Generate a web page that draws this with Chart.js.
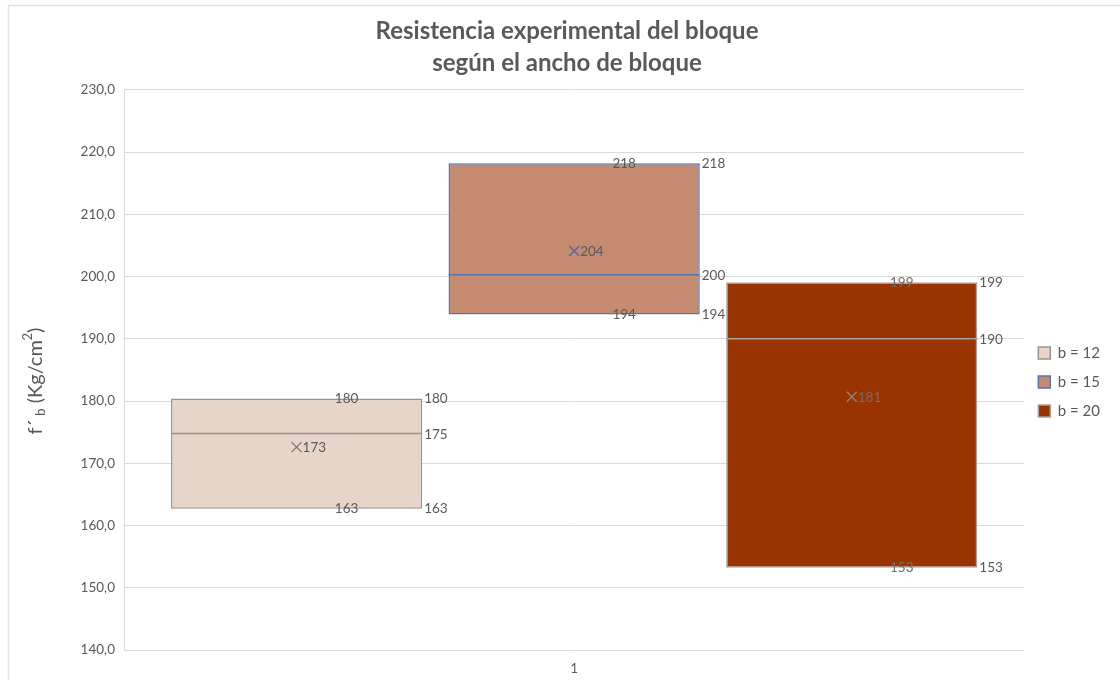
<!DOCTYPE html>
<html>
<head>
<meta charset="utf-8">
<script src="https://cdn.jsdelivr.net/npm/chart.js@4.4.1/dist/chart.umd.min.js"></script>
<style>
  html, body { margin: 0; padding: 0; background: #ffffff; }
  #wrap { width: 1120px; height: 680px; position: relative; }
</style>
</head>
<body>
<div id="wrap"><canvas id="chart" width="1120" height="680"></canvas></div>
<script>
// Box-plot statistics per block width (kg/cm²)
const categories = ['1'];
const seriesLabels = ['b = 12', 'b = 15', 'b = 20'];
const q1Values = [162.7, 193.9, 153.2];
const q3Values = [180.4, 218.2, 199.1];
const medianValues = [174.8, 200.3, 190.0];
const meanValues = [172.6, 204.1, 180.7];
const minValues = [162.7, 193.9, 153.2];
const maxValues = [180.4, 218.2, 199.1];
const yTicks = [140, 150, 160, 170, 180, 190, 200, 210, 220, 230];

const fillColors = ['#e8d5ca', '#c48b71', '#993300'];
const edgeColors = ['#9a918c', '#5574b0', '#a8a29e'];
const markColors = ['#7a7470', '#4a67a0', '#8e8a88'];
const labelColors = ['#595959', '#595959', '#7a6a66'];

const FONT = 'Lato, "Open Sans", "Liberation Sans", sans-serif';
const TEXT = '#595959';

const fmt = v => String(Math.round(v));

// Outer frame of the chart object
const framePlugin = {
  id: 'frame',
  beforeDraw(chart) {
    const ctx = chart.ctx;
    ctx.save();
    ctx.fillStyle = '#ffffff';
    ctx.fillRect(0, 0, chart.width, chart.height);
    ctx.strokeStyle = '#e3e3e3';
    ctx.lineWidth = 1.5;
    ctx.strokeRect(8.5, 5.5, chart.width + 20, chart.height + 20);
    ctx.restore();
  }
};

// Median line, mean marker and value labels on each box
const boxPlugin = {
  id: 'boxDecor',
  afterDatasetsDraw(chart) {
    const ctx = chart.ctx;
    const y = chart.scales.y;
    ctx.save();
    chart.data.datasets.forEach((ds, i) => {
      const meta = chart.getDatasetMeta(i);
      if (meta.hidden) return;
      const bar = meta.data[0];
      const cx = bar.x;
      const half = bar.width / 2;
      const left = cx - half, right = cx + half;

      // median
      const ym = y.getPixelForValue(medianValues[i]);
      ctx.strokeStyle = edgeColors[i];
      ctx.lineWidth = 1.5;
      ctx.beginPath();
      ctx.moveTo(left, ym);
      ctx.lineTo(right, ym);
      ctx.stroke();

      // mean marker
      const yMean = y.getPixelForValue(meanValues[i]);
      const s = 5;
      ctx.strokeStyle = markColors[i];
      ctx.lineWidth = 1.3;
      ctx.beginPath();
      ctx.moveTo(cx - s, yMean - s);
      ctx.lineTo(cx + s, yMean + s);
      ctx.moveTo(cx + s, yMean - s);
      ctx.lineTo(cx - s, yMean + s);
      ctx.stroke();

      ctx.font = '13.5px ' + FONT;
      ctx.textBaseline = 'middle';
      ctx.textAlign = 'left';
      ctx.fillStyle = labelColors[i];
      ctx.fillText(fmt(meanValues[i]), cx + 6, yMean + 1);

      // whisker end labels
      ctx.textAlign = 'center';
      ctx.fillText(fmt(maxValues[i]), cx + 50, y.getPixelForValue(maxValues[i]));
      ctx.fillText(fmt(minValues[i]), cx + 50, y.getPixelForValue(minValues[i]));

      // quartile / median labels
      ctx.textAlign = 'left';
      ctx.fillStyle = TEXT;
      ctx.fillText(fmt(q3Values[i]), right + 2, y.getPixelForValue(q3Values[i]));
      ctx.fillText(fmt(medianValues[i]), right + 2, ym + 1);
      ctx.fillText(fmt(q1Values[i]), right + 2, y.getPixelForValue(q1Values[i]));
    });
    ctx.restore();
  }
};

// Vertical axis title with sub- and superscript
const yTitlePlugin = {
  id: 'yTitle',
  afterDraw(chart) {
    const ctx = chart.ctx;
    const parts = [
      { t: 'f\u00B4', size: 20, dy: 0 },
      { t: ' b', size: 13.5, dy: 5 },
      { t: ' (Kg/cm', size: 20, dy: 0 },
      { t: '2', size: 12.5, dy: -8 },
      { t: ')', size: 20, dy: 0 }
    ];
    ctx.save();
    let total = 0;
    parts.forEach(p => { ctx.font = p.size + 'px ' + FONT; p.w = ctx.measureText(p.t).width; total += p.w; });
    ctx.translate(36, 381);
    ctx.rotate(-Math.PI / 2);
    ctx.fillStyle = TEXT;
    ctx.textBaseline = 'middle';
    ctx.textAlign = 'left';
    let x = -total / 2;
    parts.forEach(p => {
      ctx.font = p.size + 'px ' + FONT;
      ctx.fillText(p.t, x, p.dy);
      x += p.w;
    });
    ctx.restore();
  }
};

const datasets = seriesLabels.map((label, i) => ({
  label,
  data: [[q1Values[i], q3Values[i]]],
  backgroundColor: fillColors[i],
  borderColor: edgeColors[i],
  borderWidth: 1.5,
  borderSkipped: false
}));

new Chart(document.getElementById('chart'), {
  type: 'bar',
  data: { labels: categories, datasets },
  options: {
    responsive: false,
    animation: false,
    categoryPercentage: 0.925,
    barPercentage: 0.905,
    layout: { padding: { left: 24, right: 10, top: 0, bottom: 0 } },
    plugins: {
      title: {
        display: true,
        text: ['Resistencia experimental del bloque', 'según el ancho de bloque'],
        color: TEXT,
        font: { family: FONT, size: 24, weight: 'bold', lineHeight: 1.33 },
        padding: { top: 15, bottom: 11 }
      },
      legend: {
        position: 'right',
        title: { display: true, text: '', font: { size: 1 }, padding: { top: 83, bottom: 0 } },
        labels: {
          color: TEXT,
          font: { family: FONT, size: 15 },
          boxWidth: 12,
          boxHeight: 12,
          padding: 14
        }
      },
      tooltip: { enabled: false }
    },
    scales: {
      x: {
        grid: { display: false },
        border: { display: false },
        afterFit(scale) { scale.height = 30; },
        ticks: { color: TEXT, font: { family: FONT, size: 13 }, padding: 3 }
      },
      y: {
        min: 140,
        max: 230,
        afterBuildTicks(axis) { axis.ticks = yTicks.map(v => ({ value: v })); },
        afterFit(scale) { scale.width = 100; },
        grid: { color: '#d9d9d9', lineWidth: 1, drawTicks: false },
        border: { display: true, color: '#d9d9d9' },
        ticks: {
          color: TEXT,
          font: { family: FONT, size: 13.5 },
          padding: 9,
          callback: v => Number(v).toFixed(1).replace('.', ',')
        }
      }
    }
  },
  plugins: [framePlugin, boxPlugin, yTitlePlugin]
});
</script>
</body>
</html>
